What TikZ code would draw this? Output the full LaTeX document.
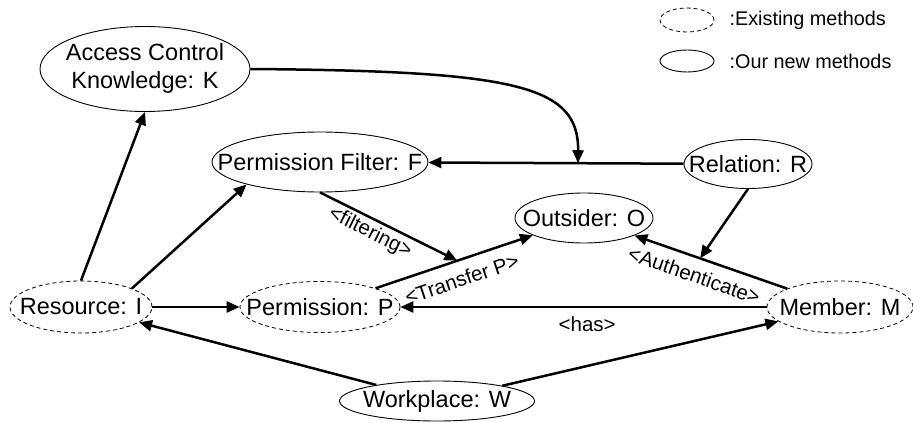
\documentclass[tikz,border=0pt]{standalone}
\usepackage{fontspec}
\setmainfont{Liberation Sans}
\usetikzlibrary{arrows.meta,positioning,shapes.geometric}
\newcommand{\tx}[1]{\makebox[0pt]{#1}}
\tikzstyle{newmeth}=[
	ellipse,
	draw,
	line width=0.9pt,
	inner sep=0pt,
	font=\fontsize{23.5}{28}\selectfont
]
\tikzstyle{oldmeth}=[
	newmeth,
	line width=0.8pt,
	dash pattern=on 4pt off 3pt
]
\tikzstyle{arr}=[
	-{Triangle[length=13pt,width=11pt]},
	line width=2.5pt
]
\tikzstyle{edgetag}=[
	font=\fontsize{20.5}{24}\selectfont,
	inner sep=0pt
]
\tikzstyle{legtext}=[
	font=\fontsize{19.8}{23}\selectfont,
	inner sep=0pt
]
\begin{document}
\begin{tikzpicture}[x=1pt,y=-1pt]
\useasboundingbox (0,0) rectangle (913,423);
% methods
\node [newmeth, minimum width=210pt, minimum height=85pt] (K) at (145,69) {\tx{\begin{tabular}{@{}c@{}}Access Control\\Knowledge: K\end{tabular}}};
\node [newmeth, minimum width=216pt, minimum height=60pt] (F) at (320,162) {\tx{Permission Filter: F}};
\node [newmeth, minimum width=128pt, minimum height=49pt] (R) at (748,164) {\tx{Relation: R}};
\node [newmeth, minimum width=138pt, minimum height=50pt] (O) at (584,218) {\tx{Outsider: O}};
\node [oldmeth, minimum width=142pt, minimum height=52pt] (I) at (81,307) {\tx{Resource: I}};
\node [oldmeth, minimum width=160pt, minimum height=51pt] (P) at (320,307) {\tx{Permission: P}};
\node [oldmeth, minimum width=146pt, minimum height=52pt] (M) at (840,307) {\tx{Member: M}};
\node [newmeth, minimum width=195pt, minimum height=40pt] (W) at (437,401) {\tx{Workplace: W}};
% legend
\node [oldmeth, minimum width=54pt, minimum height=24pt] (lgold) at (687,20) {};
\node [newmeth, minimum width=54pt, minimum height=22pt] (lgnew) at (687,61) {};
\node [legtext, right=15pt of lgold] (lgoldtext) {:Existing methods};
\node [legtext, right=15pt of lgnew] (lgnewtext) {:Our new methods};
% links
\draw [arr] (R) -- (F) coordinate [pos=0.414] (rf);
\draw [arr] (K.east) .. controls (515,71) and (579,85) .. (rf);
\draw [arr] (I.north) -- (K.south);
\draw [arr] (I.20) -- (F.197);
\draw [arr] (I) -- (P);
\draw [arr] (P) -- (O) coordinate [pos=0.52] (po)
	node [edgetag, sloped, below=10pt, pos=0.51] (transfer) {<Transfer P>};
\draw [arr] (F.south) -- (po)
	node [edgetag, sloped, below=3pt, pos=0.41] (filtering) {<filtering>};
\draw [arr] (M) -- (O) coordinate [pos=0.57] (mo)
	node [edgetag, sloped, below=9pt, pos=0.57] (auth) {<Authenticate>};
\draw [arr] (R.south) -- (mo);
\draw [arr] (M) -- (P)
	node [edgetag, below=8.5pt, pos=0.49] (has) {<has>};
\draw [arr] (W) -- (I);
\draw [arr] (W) -- (M);
\end{tikzpicture}
\end{document}
